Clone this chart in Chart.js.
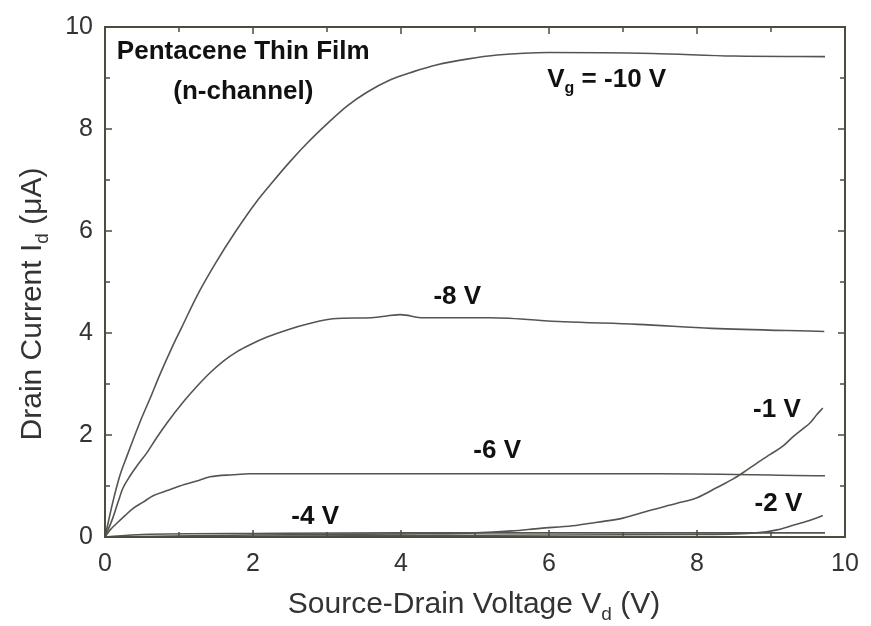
<!DOCTYPE html>
<html>
<head>
<meta charset="utf-8">
<script src="https://cdn.jsdelivr.net/npm/chart.js@4.4.1/dist/chart.umd.min.js"></script>
<style>
  html, body { margin: 0; padding: 0; background: #fff; }
  #wrap { width: 871px; height: 626px; }
</style>
</head>
<body>
<div id="wrap"><canvas id="fetChart" width="871" height="626"></canvas></div>
<script>
const vdG10 = [0, 0.1, 0.2, 0.3, 0.48, 0.61, 0.74, 0.9, 1.04, 1.24, 1.49, 1.76, 2.05, 2.27, 2.5, 2.73, 3.0, 3.27, 3.54, 3.85, 4.16, 4.49, 4.89, 5.3, 6.0, 7.4, 8.5, 9.73];
const idG10 = [0, 0.65, 1.2, 1.6, 2.28, 2.72, 3.18, 3.7, 4.12, 4.72, 5.36, 5.98, 6.58, 6.97, 7.36, 7.72, 8.1, 8.45, 8.72, 8.96, 9.12, 9.26, 9.37, 9.45, 9.5, 9.48, 9.43, 9.42];

const vdG8 = [0, 0.11, 0.18, 0.24, 0.34, 0.45, 0.57, 0.70, 0.84, 1.06, 1.24, 1.42, 1.6, 1.78, 1.96, 2.19, 2.46, 2.75, 3.08, 3.6, 3.99, 4.3, 5.2, 6.2, 7.2, 8.2, 9.72];
const idG8 = [0, 0.39, 0.7, 0.95, 1.2, 1.43, 1.66, 1.95, 2.24, 2.65, 2.95, 3.22, 3.45, 3.63, 3.77, 3.92, 4.06, 4.18, 4.28, 4.3, 4.36, 4.3, 4.3, 4.22, 4.17, 4.09, 4.03];

const vdG6 = [0, 0.07, 0.16, 0.27, 0.38, 0.51, 0.65, 0.84, 1.01, 1.24, 1.42, 1.73, 1.96, 7.5, 9.73];
const idG6 = [0, 0.14, 0.27, 0.42, 0.56, 0.68, 0.81, 0.91, 1.0, 1.1, 1.18, 1.22, 1.24, 1.24, 1.2];

const vdG4 = [0, 0.5, 2, 4, 6, 8, 9.73];
const idG4 = [0, 0.05, 0.07, 0.08, 0.08, 0.08, 0.08];

const vdG1 = [0, 2, 4, 5, 5.5, 5.88, 6.32, 6.65, 7.0, 7.36, 7.73, 8.0, 8.27, 8.49, 8.62, 8.81, 8.99, 9.16, 9.3, 9.43, 9.53, 9.62, 9.7];
const idG1 = [0, 0.04, 0.06, 0.08, 0.12, 0.17, 0.22, 0.29, 0.37, 0.52, 0.66, 0.77, 0.97, 1.14, 1.26, 1.45, 1.62, 1.78, 1.97, 2.12, 2.24, 2.4, 2.53];

const vdG2 = [0, 4, 8, 8.8, 9.08, 9.3, 9.53, 9.7];
const idG2 = [0, 0.03, 0.05, 0.08, 0.14, 0.23, 0.33, 0.42];

const seriesNames = ['-10 V', '-8 V', '-6 V', '-4 V', '-1 V', '-2 V'];
const seriesX = [vdG10, vdG8, vdG6, vdG4, vdG1, vdG2];
const seriesY = [idG10, idG8, idG6, idG4, idG1, idG2];

// text inside the plot, anchored in data units
const notes = [
    { parts: [['Pentacene Thin Film']], x: 0.16, y: 9.52, align: 'left' },
    { parts: [['(n-channel)']], x: 1.87, y: 8.73, align: 'center' },
    { parts: [['V'], ['g', 1], [' = -10 V']], x: 6.78, y: 8.96, align: 'center' },
    { parts: [['-8 V']], x: 4.76, y: 4.71, align: 'center' },
    { parts: [['-6 V']], x: 5.3, y: 1.68, align: 'center' },
    { parts: [['-4 V']], x: 2.84, y: 0.39, align: 'center' },
    { parts: [['-1 V']], x: 9.08, y: 2.49, align: 'center' },
    { parts: [['-2 V']], x: 9.1, y: 0.66, align: 'center' }
];

const FONT = '"Liberation Sans", Arial, Helvetica, sans-serif';

// draws text pieces, a piece with a second entry is a subscript
function drawParts(ctx, parts, x, y, size, weight, align) {
    const big = weight + ' ' + size + 'px ' + FONT;
    const small = weight + ' ' + Math.round(size * 0.62) + 'px ' + FONT;
    let total = 0;
    parts.forEach(p => {
        ctx.font = p[1] ? small : big;
        total += ctx.measureText(p[0]).width;
    });
    let cx = x;
    if (align === 'center') cx = x - total / 2;
    ctx.textAlign = 'left';
    ctx.textBaseline = 'middle';
    parts.forEach(p => {
        ctx.font = p[1] ? small : big;
        ctx.fillText(p[0], cx, p[1] ? y + size * 0.32 : y);
        cx += ctx.measureText(p[0]).width;
    });
}

const decorPlugin = {
    id: 'decor',
    afterDraw(chart) {
        const ctx = chart.ctx;
        const a = chart.chartArea;
        const xs = chart.scales.x;
        const ys = chart.scales.y;
        ctx.save();

        // frame round the plot
        ctx.strokeStyle = '#4f4b3e';
        ctx.lineWidth = 2;
        ctx.strokeRect(a.left, a.top, a.right - a.left, a.bottom - a.top);

        // inward ticks on all four sides
        ctx.lineWidth = 1.5;
        ctx.beginPath();
        xs.ticks.forEach(t => {
            const px = xs.getPixelForValue(t.value);
            const len = t.value % 2 === 0 ? 7 : 5;
            ctx.moveTo(px, a.bottom); ctx.lineTo(px, a.bottom - len);
            ctx.moveTo(px, a.top); ctx.lineTo(px, a.top + len);
        });
        ys.ticks.forEach(t => {
            const py = ys.getPixelForValue(t.value);
            const len = t.value % 2 === 0 ? 7 : 5;
            ctx.moveTo(a.left, py); ctx.lineTo(a.left + len, py);
            ctx.moveTo(a.right, py); ctx.lineTo(a.right - len, py);
        });
        ctx.stroke();

        // labels inside the plot
        ctx.fillStyle = '#111';
        notes.forEach(n => {
            drawParts(ctx, n.parts, xs.getPixelForValue(n.x), ys.getPixelForValue(n.y), 26, 'bold', n.align);
        });

        // axis titles
        ctx.fillStyle = '#333';
        const midX = (a.left + a.right) / 2;
        drawParts(ctx, [['Source-Drain Voltage V'], ['d', 1], [' (V)']], midX - 1, 605, 30, 'normal', 'center');

        ctx.translate(33, (a.top + a.bottom) / 2 + 22);
        ctx.rotate(-Math.PI / 2);
        drawParts(ctx, [['Drain Current I'], ['d', 1], [' (\u03bcA)']], 0, 0, 30, 'normal', 'center');
        ctx.restore();
    }
};

const datasets = seriesNames.map((name, i) => ({
    label: name,
    data: seriesX[i].map((v, j) => ({ x: v, y: seriesY[i][j] })),
    showLine: true,
    borderColor: '#555550',
    borderWidth: 1.6,
    pointRadius: 0,
    cubicInterpolationMode: 'monotone',
    fill: false
}));

const ctx = document.getElementById('fetChart').getContext('2d');
new Chart(ctx, {
    type: 'scatter',
    data: { datasets: datasets },
    options: {
        responsive: false,
        animation: false,
        layout: { padding: { top: 19, right: 26, left: 0, bottom: 0 } },
        scales: {
            x: {
                type: 'linear',
                min: 0,
                max: 10,
                afterFit: s => { s.height = 89; },
                grid: { display: false, drawTicks: false },
                border: { display: false },
                ticks: {
                    stepSize: 1,
                    autoSkip: false,
                    maxRotation: 0,
                    padding: 12,
                    color: '#333',
                    font: { family: FONT, size: 25 },
                    callback: v => (v % 2 === 0 ? v : '')
                }
            },
            y: {
                type: 'linear',
                min: 0,
                max: 10,
                afterFit: s => { s.width = 105; },
                grid: { display: false, drawTicks: false },
                border: { display: false },
                ticks: {
                    stepSize: 1,
                    autoSkip: false,
                    padding: 12,
                    color: '#333',
                    font: { family: FONT, size: 25 },
                    callback: v => (v % 2 === 0 ? v : '')
                }
            }
        },
        plugins: {
            legend: { display: false },
            tooltip: { enabled: false }
        }
    },
    plugins: [decorPlugin]
});
</script>
</body>
</html>
